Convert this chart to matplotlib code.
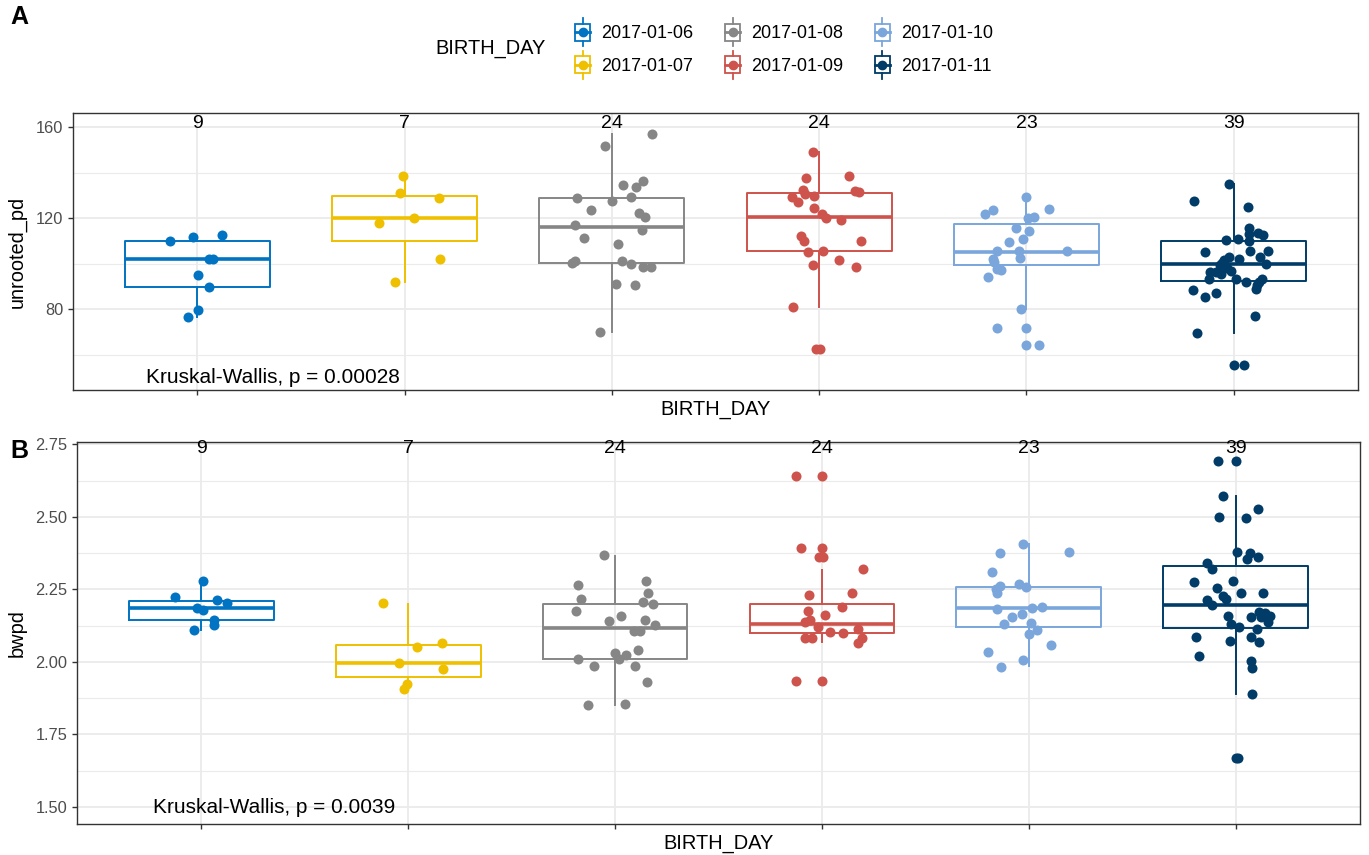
"""Boxplots of unrooted_pd and bwpd by BIRTH_DAY"""
import matplotlib
matplotlib.use('Agg')
import matplotlib.pyplot as plt
from matplotlib.legend_handler import HandlerBase
from matplotlib.lines import Line2D
from matplotlib.patches import Rectangle

plt.rcParams['font.family'] = ['Liberation Sans', 'DejaVu Sans']

days = ['2017-01-06', '2017-01-07', '2017-01-08', '2017-01-09', '2017-01-10', '2017-01-11']
colors = ['#0073C2', '#EFC000', '#868686', '#CD534C', '#7AA6DC', '#003C67']
counts = [9, 7, 24, 24, 23, 39]

# panel A - unrooted_pd, points per day and their jitter (category units)
pd_values = [
    [109.8, 111.5, 112.5, 101.8, 101.8, 95.1, 89.8, 79.7, 76.6],
    [138.3, 131.0, 128.7, 119.9, 117.9, 102.0, 91.9],
    [157.1, 151.8, 134.5, 136.3, 133.6, 128.8, 127.5, 129.2, 123.5, 122.1, 120.6, 117.1,
     114.7, 111.1, 108.4, 101.2, 100.1, 101.0, 99.9, 98.3, 98.5, 91.0, 90.4, 69.9],
    [149.0, 137.6, 138.6, 132.3, 130.8, 129.8, 132.0, 131.3, 129.1, 126.9, 124.6, 121.9,
     120.0, 119.1, 112.2, 110.0, 109.9, 105.2, 105.7, 101.5, 99.2, 98.5, 81.0, 62.6, 62.6],
    [129.4, 121.8, 123.4, 123.8, 119.9, 120.3, 115.5, 114.4, 110.8, 109.6, 105.5, 105.5,
     105.4, 102.0, 102.6, 100.8, 97.5, 97.0, 93.9, 80.0, 71.8, 71.8, 64.2, 64.2],
    [134.9, 127.3, 124.7, 115.7, 113.0, 113.6, 112.4, 110.3, 110.8, 109.9, 105.7, 105.4,
     105.0, 102.7, 101.5, 101.8, 102.7, 100.1, 99.2, 99.9, 96.4, 96.4, 95.4, 96.8, 93.0,
     93.2, 92.0, 93.2, 92.0, 90.5, 88.8, 88.4, 85.2, 87.2, 76.9, 69.3, 55.3, 55.3, 98.0],
]
pd_jitter = [
    [-0.131, -0.021, 0.117, 0.058, 0.076, 0.001, 0.058, 0.003, -0.043],
    [-0.008, -0.023, 0.164, 0.043, -0.125, 0.169, -0.048],
    [0.193, -0.032, 0.053, 0.152, 0.118, -0.167, 0.001, 0.094, -0.103, 0.133, 0.159, -0.180,
     0.144, -0.133, 0.030, -0.180, -0.190, 0.050, 0.094, 0.149, 0.188, 0.019, 0.111, -0.056],
    [-0.030, -0.063, 0.144, -0.080, -0.067, -0.024, 0.173, 0.193, -0.129, -0.101, -0.024, 0.014,
     0.034, 0.104, -0.088, -0.072, 0.201, -0.053, 0.021, 0.098, -0.030, 0.177, -0.125, -0.016, 0.003],
    [-0.001, -0.199, -0.159, 0.107, 0.006, 0.037, -0.052, 0.013, -0.014, -0.083, -0.143, -0.035,
     0.194, -0.159, -0.029, -0.155, -0.140, -0.122, -0.183, -0.027, -0.140, -0.001, -0.001, 0.061],
    [-0.024, -0.189, 0.069, 0.076, 0.076, 0.117, 0.143, -0.035, 0.019, 0.076, 0.078, 0.165,
     -0.140, -0.021, -0.047, 0.027, 0.125, -0.056, -0.064, 0.157, -0.112, -0.085, -0.061, -0.011,
     -0.117, 0.011, 0.059, 0.136, 0.120, 0.112, 0.109, -0.197, -0.140, -0.085, 0.104, -0.175,
     0.001, 0.052, -0.034],
]
# box stats: whisker low, q1, median, q3, whisker high
pd_box = [
    [76.6, 89.8, 101.9, 109.8, 112.0],
    [91.9, 110.0, 119.9, 129.7, 138.3],
    [69.9, 100.1, 115.9, 128.9, 157.1],
    [81.0, 105.3, 120.6, 131.1, 149.1],
    [80.1, 99.5, 105.2, 117.5, 129.4],
    [69.3, 92.3, 99.8, 110.0, 134.9],
]

# panel B - bwpd
bw_values = [
    [2.278, 2.224, 2.212, 2.202, 2.187, 2.180, 2.146, 2.128, 2.111],
    [2.202, 2.052, 2.066, 1.995, 1.974, 1.922, 1.905],
    [2.368, 2.266, 2.280, 2.237, 2.215, 2.208, 2.201, 2.174, 2.157, 2.142, 2.146, 2.127,
     2.108, 2.108, 2.029, 2.022, 2.011, 2.011, 2.040, 1.985, 1.986, 1.929, 1.850, 1.855],
    [2.641, 2.641, 2.394, 2.394, 2.360, 2.360, 2.319, 2.232, 2.239, 2.188, 2.160, 2.176,
     2.136, 2.144, 2.121, 2.104, 2.100, 2.115, 2.081, 2.081, 2.081, 2.066, 1.935, 1.935],
    [2.405, 2.376, 2.379, 2.310, 2.269, 2.259, 2.260, 2.250, 2.236, 2.183, 2.186, 2.190,
     2.166, 2.153, 2.132, 2.134, 2.110, 2.097, 2.057, 2.033, 2.007, 1.984],
    [2.693, 2.693, 2.573, 2.527, 2.500, 2.495, 2.379, 2.374, 2.356, 2.363, 2.342, 2.320,
     2.274, 2.279, 2.255, 2.238, 2.236, 2.228, 2.216, 2.213, 2.195, 2.173, 2.167, 2.159,
     2.155, 2.136, 2.158, 2.155, 2.129, 2.119, 2.114, 2.086, 2.084, 2.071, 2.067, 2.021,
     2.003, 1.979, 1.888, 1.668, 1.668],
]
bw_jitter = [
    [0.010, -0.127, 0.078, 0.124, -0.018, 0.010, 0.063, 0.064, -0.037],
    [-0.122, 0.045, 0.165, -0.045, 0.169, -0.006, -0.019],
    [-0.054, -0.180, 0.151, 0.159, -0.165, 0.135, 0.185, -0.189, 0.031, -0.030, 0.143, 0.193,
     0.091, 0.119, 0.002, 0.052, 0.018, -0.180, 0.111, -0.101, 0.095, 0.153, -0.133, 0.048],
    [-0.125, 0.000, -0.100, 0.000, -0.013, 0.003, 0.200, -0.065, 0.144, 0.099, 0.016, -0.067,
     -0.080, -0.056, -0.021, 0.037, 0.104, 0.176, -0.080, -0.048, 0.193, 0.176, -0.125, 0.000],
    [-0.027, -0.141, 0.196, -0.180, -0.050, -0.014, -0.141, -0.159, -0.154, -0.154, 0.014, 0.061,
     -0.035, -0.082, -0.120, 0.010, 0.037, 0.001, 0.107, -0.197, -0.029, -0.136],
    [-0.085, 0.000, -0.063, 0.106, -0.082, 0.048, 0.008, 0.067, 0.056, 0.109, -0.141, -0.116,
     -0.201, -0.013, -0.090, 0.023, 0.133, -0.061, -0.048, -0.141, -0.117, 0.112, 0.140, 0.164,
     0.124, 0.154, -0.037, 0.071, -0.024, 0.016, 0.101, -0.191, 0.072, -0.026, 0.114, -0.177,
     0.072, 0.076, 0.078, 0.000, 0.011],
]
bw_box = [
    [2.111, 2.144, 2.187, 2.210, 2.278],
    [1.905, 1.948, 1.996, 2.058, 2.199],
    [1.850, 2.011, 2.117, 2.201, 2.366],
    [2.067, 2.100, 2.129, 2.198, 2.316],
    [1.985, 2.120, 2.186, 2.259, 2.405],
    [1.888, 2.117, 2.195, 2.329, 2.571],
]

GRID = '#EBEBEB'
BORDER = '#333333'


class BoxKey(HandlerBase):
    """legend key that looks like a small boxplot with a dot"""
    def create_artists(self, legend, orig_handle, xdescent, ydescent,
                       width, height, fontsize, trans):
        c = orig_handle.get_color()
        x0, y0 = -xdescent, -ydescent - 2
        h = height + 4
        cx = x0 + width / 2
        cy = y0 + h / 2
        bb, bt = y0 + 0.2 * h, y0 + 0.8 * h
        rect = Rectangle((x0, bb), width, bt - bb, fill=False, ec=c, lw=1.3, transform=trans)
        lo = Line2D([cx, cx], [y0, bb], color=c, lw=1.3, transform=trans)
        hi = Line2D([cx, cx], [bt, y0 + h], color=c, lw=1.3, transform=trans)
        med = Line2D([x0, x0 + width], [cy, cy], color=c, lw=2.0, transform=trans)
        dot = Line2D([cx], [cy], marker='o', ms=6, color=c, lw=0, transform=trans)
        return [rect, lo, hi, med, dot]


def draw_panel(ax, values, jitter, box, ylim, major, minor, ylabel,
               count_y, kw_x, kw_y, kw_text, ylab_x, xlab_y):
    for i, c in enumerate(colors):
        pos = i + 1
        b = box[i]
        stats = [dict(whislo=b[0], q1=b[1], med=b[2], q3=b[3], whishi=b[4], fliers=[])]
        ax.bxp(stats, positions=[pos], widths=0.7, showfliers=False, showcaps=False,
               manage_ticks=False, patch_artist=False,
               boxprops=dict(color=c, lw=1.4),
               whiskerprops=dict(color=c, lw=1.4),
               medianprops=dict(color=c, lw=2.6))
        xs = [pos + d for d in jitter[i]]
        ax.scatter(xs, values[i], s=52, color=c, linewidths=0, zorder=3)
        ax.text(pos, count_y, str(counts[i]), ha='center', va='center', fontsize=14)

    ax.set_xlim(0.4, 6.6)
    ax.set_ylim(*ylim)
    ax.set_xticks(range(1, 7))
    ax.set_xticklabels([''] * 6)
    ax.set_yticks(major)
    ax.set_yticks(minor, minor=True)
    ax.grid(True, which='major', color=GRID, lw=1.3)
    ax.grid(True, which='minor', axis='y', color=GRID, lw=0.8)
    ax.set_axisbelow(True)
    ax.tick_params(which='major', length=3.5, width=1.0, color=BORDER,
                   labelsize=11.8, labelcolor='#4D4D4D')
    ax.tick_params(which='minor', length=0)
    for s in ax.spines.values():
        s.set_color(BORDER)
        s.set_linewidth(1.0)
    ax.set_ylabel(ylabel, fontsize=14.4)
    ax.yaxis.set_label_coords(ylab_x, 0.5)
    ax.set_xlabel('BIRTH_DAY', fontsize=14.4, va='top')
    ax.xaxis.set_label_coords(0.5, xlab_y)
    ax.text(kw_x, kw_y, kw_text, ha='left', va='center', fontsize=15)


fig = plt.figure(figsize=(13.69, 8.55), dpi=100)
W, H = 1369, 855
axA = fig.add_axes([73 / W, 1 - 390 / H, 1285 / W, 277 / H])
axB = fig.add_axes([77 / W, 1 - 824 / H, 1283 / W, 382 / H])

draw_panel(axA, pd_values, pd_jitter, pd_box, (44.4, 166.2),
           [80, 120, 160], [60, 100, 140], 'unrooted_pd',
           161.7, 0.75, 49.7, 'Kruskal-Wallis, p = 0.00028', -0.036, -0.036)
axA.set_yticklabels(['80', '120', '160'])

draw_panel(axB, bw_values, bw_jitter, bw_box, (1.441, 2.758),
           [1.50, 1.75, 2.00, 2.25, 2.50, 2.75], [1.625, 1.875, 2.125, 2.375, 2.625], 'bwpd',
           2.734, 0.769, 1.498, 'Kruskal-Wallis, p = 0.0039', -0.039, -0.026)
axB.set_yticklabels(['1.50', '1.75', '2.00', '2.25', '2.50', '2.75'])

fig.text(10 / W, 1 - 17 / H, 'A', fontsize=18, fontweight='bold', va='center', ha='left')
fig.text(10 / W, 1 - 451 / H, 'B', fontsize=18, fontweight='bold', va='center', ha='left')

# legend
handles = [Line2D([], [], color=c) for c in colors]
fig.text(435 / W, 1 - 49 / H, 'BIRTH_DAY', fontsize=14.4, va='center', ha='left')
fig.legend(handles, days, ncol=3, loc='upper left',
           bbox_to_anchor=(575 / W, 1 - 21 / H), frameon=False,
           fontsize=13, handler_map={Line2D: BoxKey()},
           handlelength=0.85, handleheight=1.55, handletextpad=0.6,
           labelspacing=0.55, columnspacing=1.75, borderpad=0, borderaxespad=0)

fig.savefig('out.png', dpi=100)
